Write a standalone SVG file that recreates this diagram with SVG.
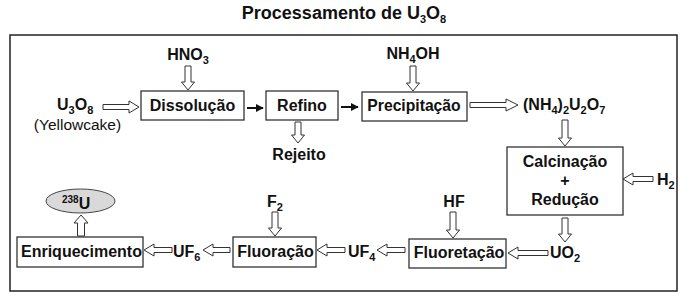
<svg xmlns="http://www.w3.org/2000/svg" width="689" height="299" viewBox="0 0 689 299">
<style>
text{font-family:"Liberation Sans",Arial,sans-serif;font-weight:bold;font-size:16px;fill:#111}
.t{font-size:18px}
.r{font-weight:normal;font-size:15.5px}
.s{font-size:11px}
.m{text-anchor:middle}
.box{fill:#fff;stroke:#333;stroke-width:1.3}
.ha{fill:#fff;stroke:#333;stroke-width:1}
.sa{stroke:#111;stroke-width:2;fill:none}
</style>
<defs>
<marker id="ah" viewBox="0 0 10 10" refX="9" refY="5" markerWidth="4" markerHeight="4" orient="auto">
<path d="M0,0 L10,5 L0,10 Z" fill="#111"/>
</marker>
</defs>
<rect width="689" height="299" fill="#fff"/>
<text class="t m" x="344" y="19">Processamento de U<tspan class="s" dy="4">3</tspan><tspan dy="-4">O</tspan><tspan class="s" dy="4">8</tspan></text>
<rect x="10" y="35" width="667" height="256" fill="none" stroke="#222" stroke-width="1.5"/>

<g id="connectors">
<polygon class="ha" points="185,66 191,66 191,82 194.5,82 188,90 181.5,82 185,82"/>
<polygon class="ha" points="410,66 416,66 416,83 419.5,83 413,91 406.5,83 410,83"/>
<polygon class="ha" points="295,122 301,122 301,135 304.5,135 298,143 291.5,135 295,135"/>
<polygon class="ha" points="562,120 568,120 568,138 571.5,138 565,146 558.5,138 562,138"/>
<polygon class="ha" points="562,218 568,218 568,234 571.5,234 565,242 558.5,234 562,234"/>
<polygon class="ha" points="272,212 278,212 278,228 281.5,228 275,236 268.5,228 272,228"/>
<polygon class="ha" points="450,212 456,212 456,230 459.5,230 453,238 446.5,230 450,230"/>
<polygon class="ha" points="103,104.5 129,104.5 129,101 139,107 129,113 129,109.5 103,109.5"/>
<polygon class="ha" points="470,102.5 506,102.5 506,99 518,105 506,111 506,107.5 470,107.5"/>
<polygon class="ha" points="653,176.5 633,176.5 633,173 623,179 633,185 633,181.5 653,181.5"/>
<polygon class="ha" points="548,250.5 518,250.5 518,247 508,253 518,259 518,255.5 548,255.5"/>
<polygon class="ha" points="405,247.5 387,247.5 387,244 377,250 387,256 387,252.5 405,252.5"/>
<polygon class="ha" points="345,247.5 327,247.5 327,244 317,250 327,256 327,252.5 345,252.5"/>
<polygon class="ha" points="230,247.5 213,247.5 213,244 203,250 213,256 213,252.5 230,252.5"/>
<polygon class="ha" points="172,247.5 154,247.5 154,244 144,250 154,256 154,252.5 172,252.5"/>
<polygon class="ha" points="77.5,236 84.5,236 84.5,223 88,223 81,215 74,223 77.5,223"/>
<line class="sa" x1="247" y1="108" x2="263" y2="108" marker-end="url(#ah)"/>
<line class="sa" x1="341" y1="107" x2="358" y2="107" marker-end="url(#ah)"/>
</g>

<g id="hno3"><text class="m" x="188" y="60">HNO<tspan class="s" dy="4">3</tspan></text></g>
<g id="nh4oh"><text class="m" x="413" y="59">NH<tspan class="s" dy="4">4</tspan><tspan dy="-4">OH</tspan></text></g>
<g id="u3o8"><text x="57" y="110">U<tspan class="s" dy="4">3</tspan><tspan dy="-4">O</tspan><tspan class="s" dy="4">8</tspan></text>
<text class="r m" x="77.5" y="130">(Yellowcake)</text></g>
<g id="dissolucao"><rect class="box" x="141" y="91" width="103" height="29"/><text class="m" x="192.5" y="110.5">Dissolução</text></g>
<g id="refino"><rect class="box" x="266" y="91" width="72" height="29"/><text class="m" x="302" y="110.5">Refino</text></g>
<g id="rejeito"><text class="m" x="299" y="160">Rejeito</text></g>
<g id="precipitacao"><rect class="box" x="362" y="92" width="105" height="29"/><text class="m" x="414" y="110.5" style="font-size:15.7px">Precipitação</text></g>
<g id="adu"><text x="523" y="110">(NH<tspan class="s" dy="4">4</tspan><tspan dy="-4">)</tspan><tspan class="s" dy="4">2</tspan><tspan dy="-4">U</tspan><tspan class="s" dy="4">2</tspan><tspan dy="-4">O</tspan><tspan class="s" dy="4">7</tspan></text></g>
<g id="calcinacao"><rect class="box" x="507" y="147" width="116" height="68"/>
<text class="m" x="565" y="167">Calcinação</text><text class="m" x="565" y="186">+</text><text class="m" x="565" y="205">Redução</text></g>
<g id="h2"><text x="657" y="185">H<tspan class="s" dy="4">2</tspan></text></g>
<g id="uo2"><text x="550" y="258">UO<tspan class="s" dy="4">2</tspan></text></g>
<g id="hf"><text class="m" x="454" y="207">HF</text></g>
<g id="fluoretacao"><rect class="box" x="409" y="239" width="97" height="29"/><text class="m" x="459" y="258">Fluoretação</text></g>
<g id="uf4"><text x="348" y="257">UF<tspan class="s" dy="4">4</tspan></text></g>
<g id="f2"><text x="267" y="207">F<tspan class="s" dy="4">2</tspan></text></g>
<g id="fluoracao"><rect class="box" x="233" y="237" width="83" height="30"/><text class="m" x="275.5" y="257">Fluoração</text></g>
<g id="uf6"><text x="173" y="257">UF<tspan class="s" dy="4">6</tspan></text></g>
<g id="enriquecimento"><rect class="box" x="17" y="237" width="126" height="30"/><text x="21" y="257">Enriquecimento</text></g>
<g id="u238"><ellipse cx="80.5" cy="201" rx="34.5" ry="12" fill="#d9d9d9" stroke="#444" stroke-width="1"/>
<text x="62" y="209"><tspan style="font-size:10px" dy="-6">238</tspan><tspan dy="6">U</tspan></text></g>
</svg>
